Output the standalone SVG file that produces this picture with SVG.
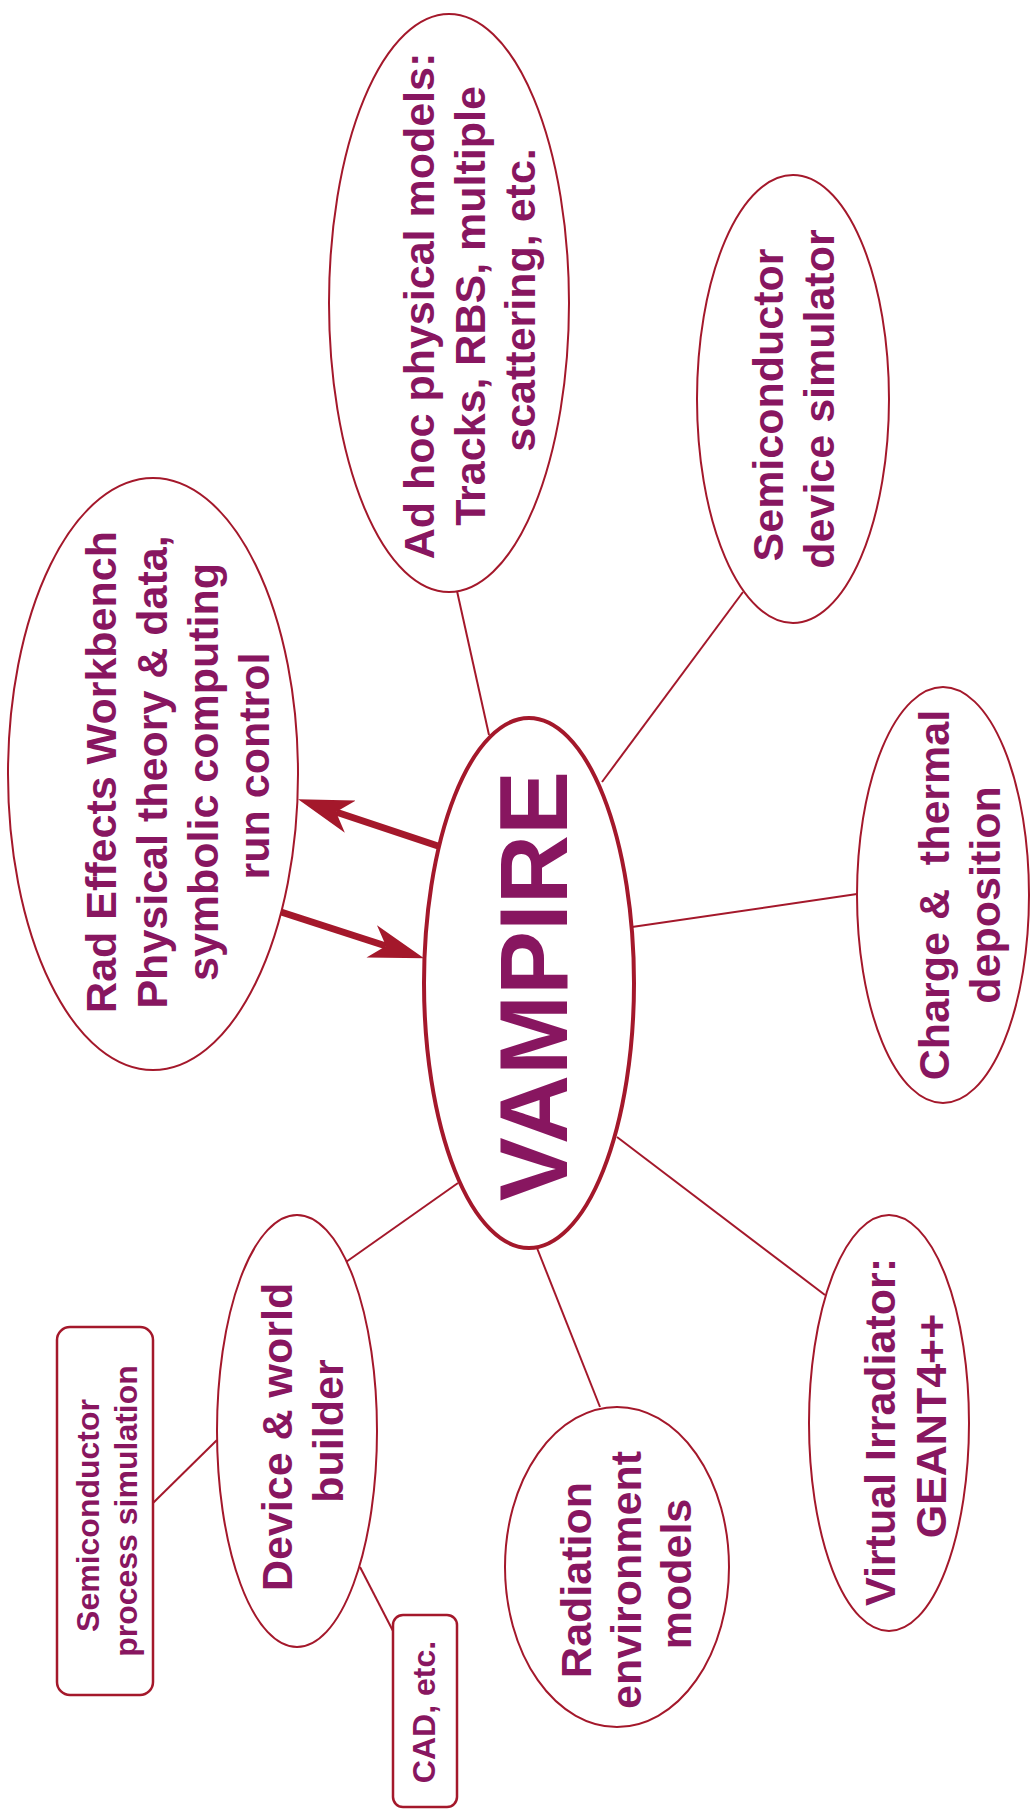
<svg xmlns="http://www.w3.org/2000/svg" width="1030" height="1818" viewBox="0 0 1030 1818">
  <style>
    .node { fill: #ffffff; stroke: #a4182b; stroke-width: 2; }
    .hub { fill: #ffffff; stroke: #a4182b; stroke-width: 4; }
    .box { fill: #ffffff; stroke: #a4182b; stroke-width: 2.5; }
    .lbl { font-family: "Liberation Sans", Arial, sans-serif; font-weight: bold; font-size: 43px; fill: #881660; text-anchor: middle; }
    .small { font-size: 32px; }
    .big { font-size: 96px; }
    .link { stroke: #a4182b; stroke-width: 2; fill: none; }
    .flow { stroke: #a4182b; stroke-width: 7; fill: none; marker-end: url(#head); }
  </style>
  <defs>
    <marker id="head" viewBox="0 0 55 34" refX="15" refY="17" markerWidth="55" markerHeight="34" markerUnits="userSpaceOnUse" orient="auto">
      <path d="M0,0 L55,17 L0,34 L15,17 Z" fill="#a4182b"/>
    </marker>
  </defs>
  <rect width="1030" height="1818" fill="#ffffff"/>

  <!-- plain connectors -->
  <g id="connectors">
    <line class="link" x1="457" y1="591" x2="489" y2="735"/>
    <line class="link" x1="743" y1="592" x2="602" y2="782"/>
    <line class="link" x1="857" y1="894" x2="632" y2="927"/>
    <line class="link" x1="617" y1="1137" x2="825" y2="1295"/>
    <line class="link" x1="537" y1="1248" x2="600" y2="1407"/>
    <line class="link" x1="458" y1="1183" x2="346" y2="1262"/>
    <line class="link" x1="217" y1="1440" x2="153" y2="1503"/>
    <line class="link" x1="360" y1="1567" x2="393" y2="1631"/>
    <!-- two-way exchange with the workbench -->
    <line class="flow" x1="438" y1="846" x2="336" y2="812"/>
    <line class="flow" x1="281" y1="912" x2="386" y2="946"/>
  </g>

  <g id="adhoc">
    <ellipse class="node" cx="449" cy="303" rx="120" ry="289"/>
    <text class="lbl" transform="translate(434,300) rotate(-90)">
      <tspan x="0" y="0">Ad hoc physical models:</tspan>
      <tspan x="0" y="51">Tracks, RBS, multiple</tspan>
      <tspan x="0" y="101">scattering, etc.</tspan>
    </text>
  </g>

  <g id="devsim">
    <ellipse class="node" cx="793" cy="399" rx="96" ry="224"/>
    <text class="lbl" transform="translate(783,399) rotate(-90)">
      <tspan x="0" y="0">Semiconductor</tspan>
      <tspan x="0" y="51">device simulator</tspan>
    </text>
  </g>

  <g id="workbench">
    <ellipse class="node" cx="153" cy="774" rx="145" ry="296"/>
    <text class="lbl" transform="translate(116,766) rotate(-90)">
      <tspan x="0" y="0">Rad Effects Workbench</tspan>
      <tspan x="0" y="51">Physical theory &amp; data,</tspan>
      <tspan x="0" y="102">symbolic computing</tspan>
      <tspan x="0" y="153">run control</tspan>
    </text>
  </g>

  <g id="vampire">
    <ellipse class="hub" cx="529" cy="983" rx="105" ry="265"/>
    <text class="lbl big" transform="translate(567,986) rotate(-90)">VAMPIRE</text>
  </g>

  <g id="deposition">
    <ellipse class="node" cx="943" cy="895" rx="86" ry="208"/>
    <text class="lbl" xml:space="preserve" transform="translate(949,895) rotate(-90)"><tspan x="0" y="0">Charge &amp;  thermal</tspan><tspan x="0" y="51">deposition</tspan></text>
  </g>

  <g id="irradiator">
    <ellipse class="node" cx="889" cy="1423" rx="80" ry="208"/>
    <text class="lbl" transform="translate(895,1426) rotate(-90)">
      <tspan x="0" y="0">Virtual Irradiator:</tspan>
      <tspan x="0" y="51">GEANT4++</tspan>
    </text>
  </g>

  <g id="environment">
    <ellipse class="node" cx="617" cy="1567" rx="112" ry="160"/>
    <text class="lbl" transform="translate(591,1574) rotate(-90)">
      <tspan x="0" y="0">Radiation</tspan>
      <tspan x="0" y="50">environment</tspan>
      <tspan x="0" y="100">models</tspan>
    </text>
  </g>

  <g id="builder">
    <ellipse class="node" cx="297" cy="1431" rx="80" ry="216"/>
    <text class="lbl" transform="translate(292,1431) rotate(-90)">
      <tspan x="0" y="0">Device &amp; world</tspan>
      <tspan x="0" y="51">builder</tspan>
    </text>
  </g>

  <g id="process">
    <rect class="box" x="57" y="1327" width="96" height="368" rx="13"/>
    <text class="lbl small" transform="translate(99,1511) rotate(-90)">
      <tspan x="0" y="0">Semiconductor</tspan>
      <tspan x="0" y="38">process simulation</tspan>
    </text>
  </g>

  <g id="cad">
    <rect class="box" x="393" y="1615" width="64" height="192" rx="10"/>
    <text class="lbl small" transform="translate(435,1712) rotate(-90)">CAD, etc.</text>
  </g>
</svg>
